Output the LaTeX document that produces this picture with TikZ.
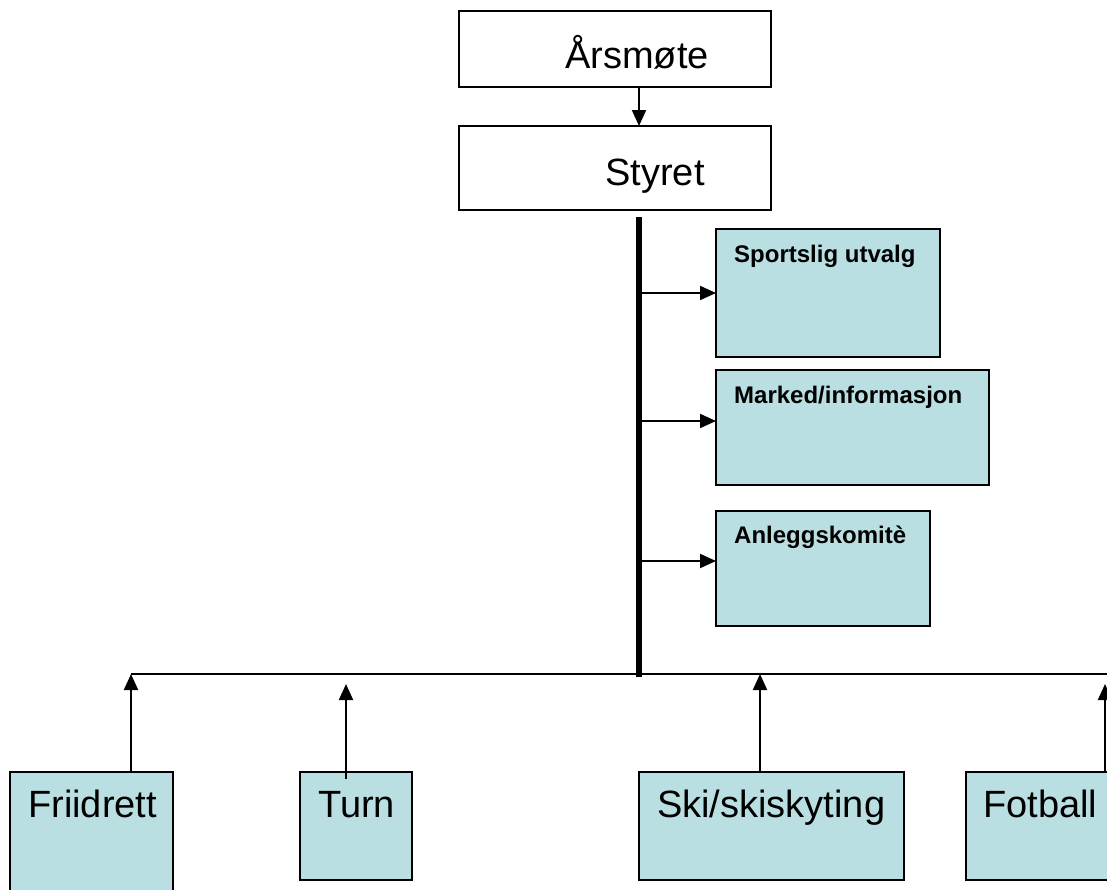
\documentclass[tikz,border=0pt]{standalone}
\usepackage{fontspec}
\setmainfont{Liberation Sans}
\usepackage{tikz}
\usetikzlibrary{arrows.meta}
\definecolor{boxblue}{HTML}{BADFE2}
\def\bigfont{\fontsize{38}{44}\selectfont}
\def\smallfont{\fontsize{24}{28}\selectfont\bfseries}
\tikzset{
    plain/.style={draw,line width=1.5pt,rectangle,inner sep=0pt,outer sep=0pt,anchor=north west},
    unit/.style={plain,fill=boxblue},
    lbl/.style={anchor=base west,inner sep=0pt},
    arr/.style={line width=2pt,-{Triangle[length=16pt,width=14pt]}},
}

\begin{document}
\begin{tikzpicture}[x=1pt,y=-1pt]
    \useasboundingbox (0,0) rectangle (1107,889);
    % top of the tree
    \node[plain,minimum width=312pt,minimum height=76pt] (ars) at (459,11) {};
    \node[plain,minimum width=312pt,minimum height=84pt] (styret) at (459,126) {};
    \node[anchor=base] (arsT) at (637,68) {\bigfont Årsmøte};
    \node[anchor=base] (styretT) at (655,185) {\bigfont Styret};
    \draw[arr] ([xshift=24pt]ars.south) -- ([xshift=24pt]styret.north);
    % committees
    \node[unit,minimum width=224pt,minimum height=128pt] (sport) at (716,229) {};
    \node[unit,minimum width=273pt,minimum height=115pt] (marked) at (716,370) {};
    \node[unit,minimum width=214pt,minimum height=115pt] (anlegg) at (716,511) {};
    \node[lbl] (sportT) at (734,262) {\smallfont Sportslig utvalg};
    \node[lbl] (markedT) at (734,403) {\smallfont Marked/informasjon};
    \node[lbl] (anleggT) at (734,543) {\smallfont Anleggskomitè};
    % trunk and bus
    \coordinate (trunkTop) at (639,217);
    \coordinate (trunkBot) at (639,677);
    \coordinate (busL) at (131,674);
    \coordinate (busR) at (1115,674);
    \draw[line width=6pt] (trunkTop) -- (trunkBot);
    \draw[line width=2pt] (busL) -- (busR);
    \draw[arr] (trunkTop |- sport.west) -- (sport.west);
    \draw[arr] ([yshift=6.5pt]trunkTop |- marked.west) -- ([yshift=6.5pt]marked.west);
    \draw[arr] ([yshift=7.5pt]trunkTop |- anlegg.west) -- ([yshift=7.5pt]anlegg.west);
    % groups
    \node[unit,minimum width=163pt,minimum height=133pt] (fri) at (10,772) {};
    \node[unit,minimum width=112pt,minimum height=108pt] (turn) at (300,772) {};
    \node[unit,minimum width=265pt,minimum height=108pt] (ski) at (639,772) {};
    \node[unit,minimum width=164pt,minimum height=108pt] (fot) at (966,772) {};
    \node[lbl] (friT) at (28,817) {\bigfont Friidrett};
    \node[lbl] (turnT) at (318,817) {\bigfont Turn};
    \node[lbl] (skiT) at (657,817) {\bigfont Ski/skiskyting};
    \node[lbl] (fotT) at (983,817) {\bigfont Fotball};
    \coordinate (turnTip) at (346,684);
    \coordinate (skiTip) at (760,674);
    \coordinate (fotTip) at (1105,684);
    \draw[arr] (fri.north -| busL) -- (busL);
    \draw[arr] ([yshift=-7pt]turn.north -| turnTip) -- (turnTip);
    \draw[arr] (ski.north -| skiTip) -- (skiTip);
    \draw[arr] (fot.north -| fotTip) -- (fotTip);
\end{tikzpicture}
\end{document}
